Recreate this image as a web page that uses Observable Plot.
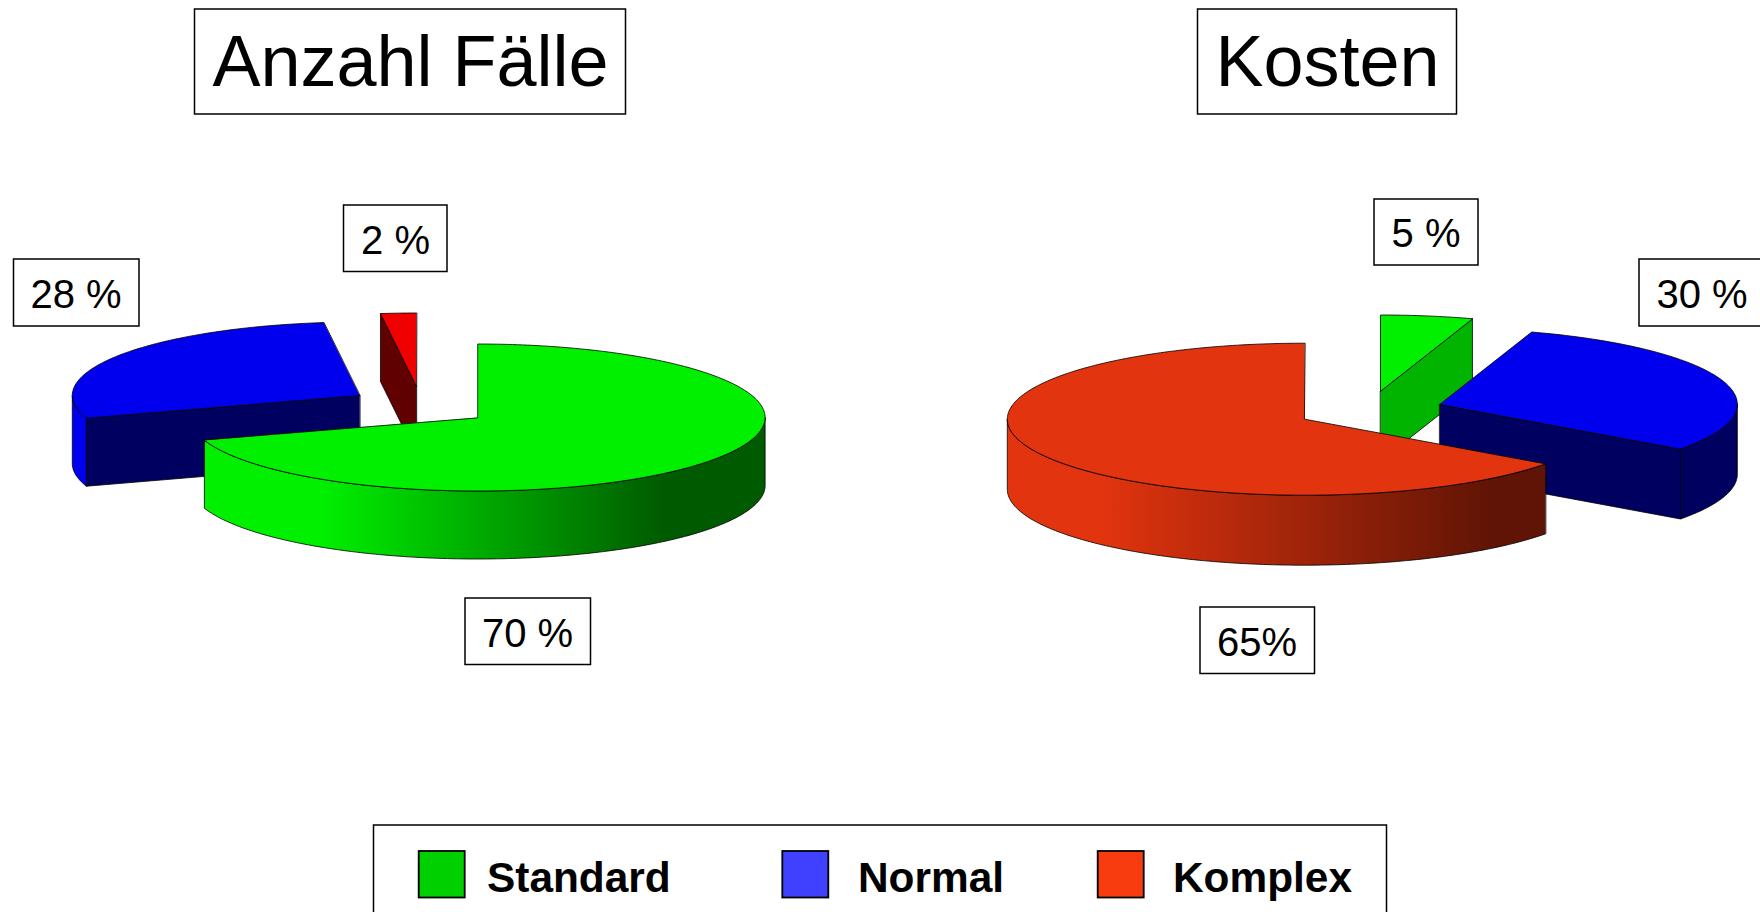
<!DOCTYPE html>
<html><head><meta charset="utf-8">
<script src="https://cdn.jsdelivr.net/npm/d3@7"></script>
<script src="https://cdn.jsdelivr.net/npm/@observablehq/plot@0.6"></script>
<style>html,body{margin:0;padding:0;background:#fff;overflow:hidden}svg{display:block}</style>
</head><body><div id="chart"></div>
<script>
// Values, in the order of categories
const categories = ["Standard", "Normal", "Komplex"];
const faelleShares = [70, 28, 2];
const kostenShares = [5, 30, 65];
const faelleLabels = ["70 %", "28 %", "2 %"];
const kostenLabels = ["5 %", "30 %", "65%"];
const pieTitles = ["Anzahl Fälle", "Kosten"];

// Styles
const topColors = {Standard: "#00f000", Normal: "#0000ee", Komplex: "#f00000"};
const legendColors = ["#00d000", "#4040ff", "#f83c10"];
const FONT = "Liberation Sans, Arial, sans-serif";

// Layout (page units)
const W = 1760, H = 912;
const leftPie = {rx: 287.4, ry: 73.5, depth: 68};
const rightPie = {rx: 297.5, ry: 76, depth: 70};
const leftCentres = {Standard: [477.2, 417], Normal: [359.2, 395], Komplex: [416, 386]};
const rightCentres = {Standard: [1380, 390.5], Normal: [1439.3, 403.8], Komplex: [1304.3, 418.7]};

const rad = d => d * Math.PI / 180;
const pt = (pie, c, a, dz = 0) => [c[0] + pie.rx * Math.sin(rad(a)), c[1] - pie.ry * Math.cos(rad(a)) + dz];
const arc = (pie, c, a0, a1, dz = 0) => {
  const n = Math.max(2, Math.ceil(Math.abs(a1 - a0)));
  return d3.range(n + 1).map(i => pt(pie, c, a0 + (a1 - a0) * i / n, dz));
};
const poly = (points, fill, sw = 1) => Plot.line(points, {
  x: d => d[0], y: d => d[1], curve: "linear-closed", fill,
  stroke: "#000", strokeWidth: sw, strokeLinejoin: "round"
});
// Angular span of each category, clockwise from 12 o'clock
function spans(shares) {
  let a = 0; const out = {};
  categories.forEach((k, i) => { out[k] = [a, a + shares[i] * 3.6]; a += shares[i] * 3.6; });
  return out;
}
function slice(pie, c, [a0, a1], top, face, rim) {
  const marks = [];
  const rimFrom = Math.max(a0, 90), rimTo = Math.min(a1, 270);
  if (rimTo > rimFrom && rim) {
    marks.push(poly([...arc(pie, c, rimFrom, rimTo), ...arc(pie, c, rimTo, rimFrom, pie.depth)], rim, 0.8));
  }
  if (face) {
    const p = pt(pie, c, face.edge);
    marks.push(poly([c, p, [p[0], p[1] + pie.depth], [c[0], c[1] + pie.depth]], face.fill, 0.8));
  }
  marks.push(poly([c, ...arc(pie, c, a0, a1)], top, 0.8));
  return marks;
}
const L = spans(faelleShares), R = spans(kostenShares);

const gradients = () => {
  const svgNS = "http://www.w3.org/2000/svg";
  const defs = document.createElementNS(svgNS, "defs");
  const add = (id, x1, x2, stops) => {
    const g = document.createElementNS(svgNS, "linearGradient");
    g.setAttribute("id", id); g.setAttribute("gradientUnits", "userSpaceOnUse");
    g.setAttribute("x1", x1); g.setAttribute("x2", x2); g.setAttribute("y1", 0); g.setAttribute("y2", 0);
    stops.forEach(([o, col]) => {
      const s = document.createElementNS(svgNS, "stop");
      s.setAttribute("offset", o); s.setAttribute("stop-color", col); g.appendChild(s);
    });
    defs.appendChild(g);
  };
  add("rimGreen", 320, 665, [[0, "#00f000"], [1, "#005a00"]]);
  add("rimRed", 1100, 1495, [[0, "#e2340e"], [1, "#5f1405"]]);
  return defs;
};

// Boxed text helper
const box = (x1, y1, x2, y2) => Plot.rect([0], {x1: () => x1, x2: () => x2, y1: () => y1, y2: () => y2, fill: "#fff", stroke: "#000", strokeWidth: 1.5});
const label = (text, x, y, size, extra = {}) => Plot.text([text], {x: () => x, y: () => y, text: d => d, fontSize: size, fontFamily: FONT, fill: "#000", lineAnchor: "middle", textAnchor: "middle", ...extra});
const boxed = (text, x1, y1, x2, y2, size, cx, dy = 2) => [box(x1, y1, x2, y2), label(text, cx ?? (x1 + x2) / 2, (y1 + y2) / 2 + dy, size)];

const chart = Plot.plot({
  width: W, height: H, margin: 0,
  x: {domain: [0, W], range: [0, W], axis: null},
  y: {domain: [0, H], range: [0, H], axis: null},
  marks: [
    gradients,
    // Left pie
    ...slice(leftPie, leftCentres.Normal, L.Normal, topColors.Normal, {edge: L.Normal[0], fill: "#000060"}, topColors.Normal),
    ...slice(leftPie, leftCentres.Komplex, L.Komplex, topColors.Komplex, {edge: L.Komplex[0], fill: "#600000"}, null),
    ...slice(leftPie, leftCentres.Standard, L.Standard, topColors.Standard, null, "url(#rimGreen)"),
    // Right pie
    ...slice(rightPie, rightCentres.Standard, R.Standard, topColors.Standard, {edge: R.Standard[1], fill: "#00b400"}, null),
    ...slice(rightPie, rightCentres.Normal, R.Normal, topColors.Normal, {edge: R.Normal[1], fill: "#000060"}, "#000060"),
    ...slice(rightPie, rightCentres.Komplex, R.Komplex, "#e2340e", null, "url(#rimRed)"),
    // Titles
    ...boxed(pieTitles[0], 194.5, 9, 625.5, 114, 72, undefined, 1),
    ...boxed(pieTitles[1], 1197.5, 9, 1456.5, 114, 72, undefined, 1),
    // Value labels
    ...boxed(faelleLabels[1], 13.5, 259, 139, 326, 40, 75.5),
    ...boxed(faelleLabels[2], 343.5, 205, 447, 271.5, 40, 395),
    ...boxed(faelleLabels[0], 465, 598, 590.5, 664.5, 40, 527),
    ...boxed(kostenLabels[0], 1374, 199, 1478, 265, 40, 1425.5),
    ...boxed(kostenLabels[1], 1639, 259, 1770, 326, 40, 1701.5),
    ...boxed(kostenLabels[2], 1200, 607, 1314.5, 673.5, 40, 1256.5),
    // Legend
    box(373.5, 825, 1386.5, 940),
    ...categories.flatMap((k, i) => {
      const sx = [418.7, 782.3, 1097.7][i], tx = [486.5, 857.5, 1172.5][i];
      return [
        Plot.rect([k], {x1: () => sx, x2: () => sx + 46, y1: () => 851, y2: () => 897.5, fill: legendColors[i], stroke: "#000", strokeWidth: 1.8}),
        label(k, tx, 878, 42.4, {fontWeight: "bold", textAnchor: "start"})
      ];
    })
  ]
});
document.getElementById("chart").appendChild(chart);
</script></body></html>
